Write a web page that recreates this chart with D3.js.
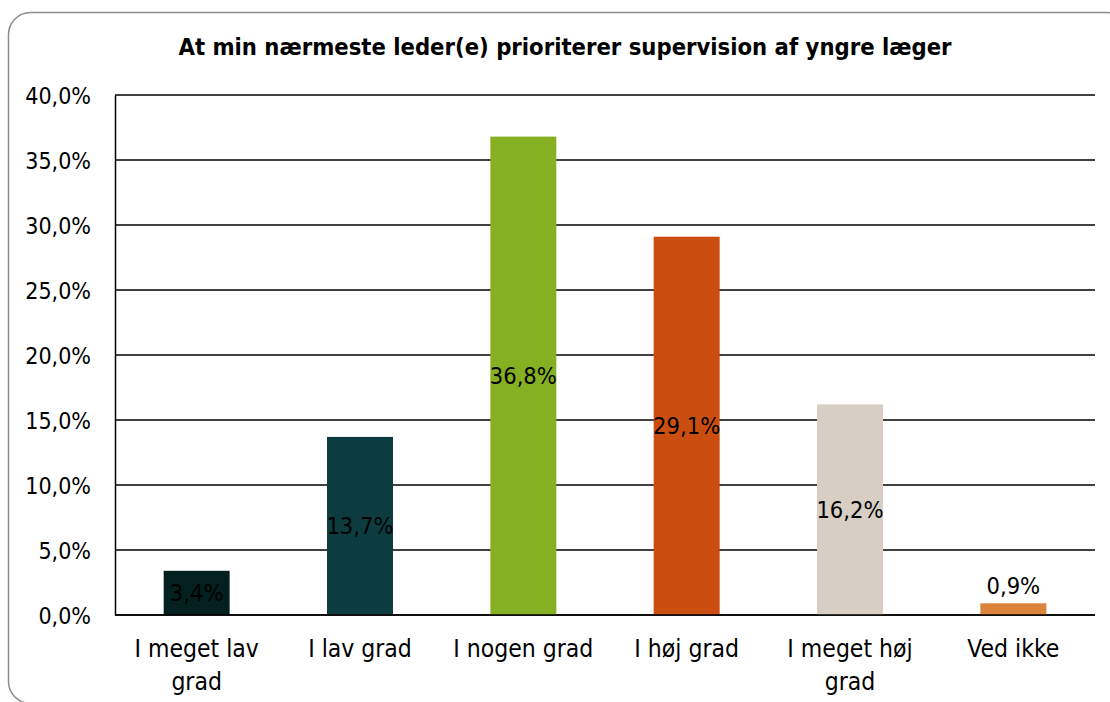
<!DOCTYPE html>
<html>
<head>
<meta charset="utf-8">
<script src="https://cdn.jsdelivr.net/npm/d3@7"></script>
<style>
  body { margin: 0; background: #fff; }
  text { font-family: "DejaVu Sans Condensed", "DejaVu Sans", sans-serif; fill: #000; }
</style>
</head>
<body>
<svg id="chart" width="1110" height="702" viewBox="0 0 1110 702"></svg>
<script>
// data
const categories = [["I meget lav", "grad"], ["I lav grad"], ["I nogen grad"], ["I høj grad"], ["I meget høj", "grad"], ["Ved ikke"]];
const values = [3.4, 13.7, 36.8, 29.1, 16.2, 0.9];
const barColors = ["#04201e", "#0c3c40", "#86b021", "#cb4e10", "#d7cfc4", "#dc843c"];
const yTicks = [0, 5, 10, 15, 20, 25, 30, 35, 40];
const title = "At min nærmeste leder(e) prioriterer supervision af yngre læger";

let svg = d3.select("#chart");
const fmt = v => v.toFixed(1).replace(".", ",") + "%";

/* ----- outer frame ----- */
svg.append("rect")
    .attr("x", 8.5).attr("y", 12.5)
    .attr("width", 1120).attr("height", 691)
    .attr("rx", 22).attr("ry", 22)
    .attr("fill", "#fff")
    .attr("stroke", "#8c8c8c")
    .attr("stroke-width", 1.5);

/* ----- title ----- */
svg.append("text")
    .attr("x", 565).attr("y", 55)
    .attr("text-anchor", "middle")
    .attr("font-weight", "bold")
    .attr("font-size", 23.6)
    .text(title);

/* ----- scales ----- */
let margin = {left: 115, right: 1095, top: 95, bottom: 615};

let x = d3.scaleBand()
    .domain(d3.range(categories.length))
    .range([margin.left, margin.right])
    .paddingInner(0.596)
    .paddingOuter(0.298);

let y = d3.scaleLinear()
    .domain([0, 40])
    .range([margin.bottom, margin.top]);

/* ----- grid ----- */
svg.append("g")
    .selectAll("line")
    .data(yTicks)
    .enter()
    .append("line")
    .attr("x1", margin.left).attr("x2", margin.right)
    .attr("y1", d => y(d)).attr("y2", d => y(d))
    .attr("stroke", "#000")
    .attr("stroke-width", 1.5);

/* ----- y axis ----- */
let yAxis = svg.append("g")
    .attr("transform", `translate(${margin.left},0)`)
    .call(d3.axisLeft(y).tickValues(yTicks).tickFormat(fmt).tickSize(0).tickPadding(24));
yAxis.select(".domain").attr("stroke", "#000").attr("stroke-width", 1.5);
yAxis.selectAll("text").attr("font-size", 23).attr("dy", "0.35em");

/* ----- bars ----- */
svg.append("g")
    .selectAll("rect")
    .data(values)
    .enter()
    .append("rect")
    .attr("x", (d, i) => x(i))
    .attr("width", x.bandwidth())
    .attr("y", d => y(d))
    .attr("height", d => y(0) - y(d))
    .attr("fill", (d, i) => barColors[i]);

// redraw baseline on top of bars
svg.append("line")
    .attr("x1", margin.left).attr("x2", margin.right)
    .attr("y1", y(0)).attr("y2", y(0))
    .attr("stroke", "#000").attr("stroke-width", 1.5);

/* ----- value labels ----- */
svg.append("g")
    .selectAll("text")
    .data(values)
    .enter()
    .append("text")
    .attr("x", (d, i) => x(i) + x.bandwidth() / 2)
    .attr("y", d => (y(0) - y(d)) < 30 ? y(d) - 9 : (y(d) + y(0)) / 2)
    .attr("dy", d => (y(0) - y(d)) < 30 ? "0" : "0.36em")
    .attr("text-anchor", "middle")
    .attr("font-size", 23.5)
    .attr("fill", (d, i) => i === 0 ? "#1c1c1c" : "#000")
    .text(fmt);

/* ----- x labels ----- */
let xl = svg.append("g")
    .selectAll("text")
    .data(categories)
    .enter()
    .append("text")
    .attr("x", (d, i) => x(i) + x.bandwidth() / 2)
    .attr("y", 657)
    .attr("text-anchor", "middle")
    .attr("font-size", 24.5);

xl.selectAll("tspan")
    .data(d => d)
    .enter()
    .append("tspan")
    .attr("x", function () { return d3.select(this.parentNode).attr("x"); })
    .attr("dy", (d, i) => i === 0 ? 0 : 33)
    .text(d => d);
</script>
</body>
</html>
